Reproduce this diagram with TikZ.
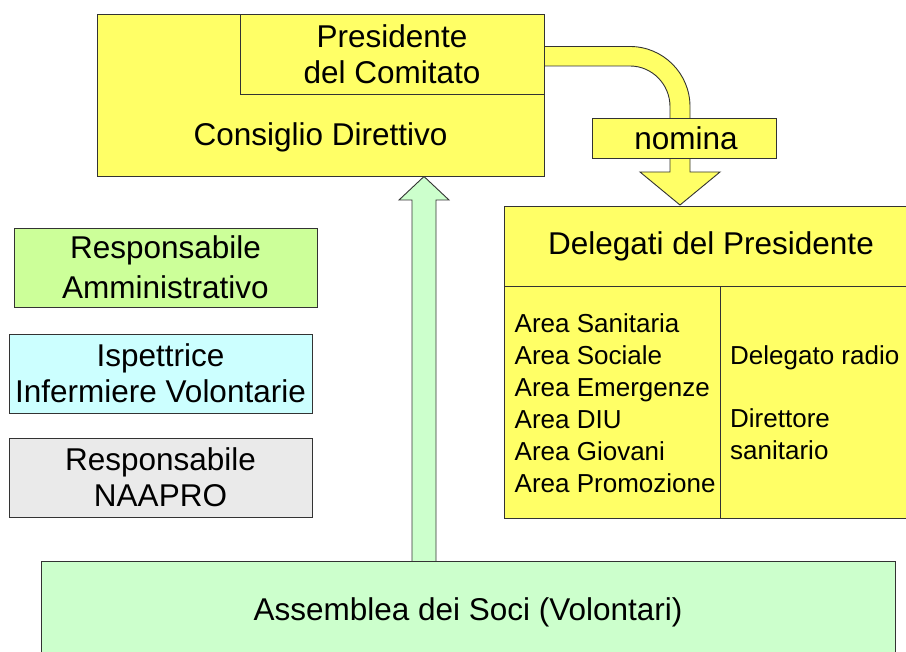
\documentclass[tikz,border=0pt]{standalone}
\usepackage{fontspec}
\setmainfont{Liberation Sans}
\definecolor{cyel}{HTML}{FFFF66}
\definecolor{cgreen}{HTML}{CCFFCC}
\definecolor{clime}{HTML}{CCFF99}
\definecolor{ccyan}{HTML}{CCFFFF}
\definecolor{cgrey}{HTML}{EAEAEA}
\definecolor{cline}{HTML}{333333}
\tikzset{
  boxstyle/.style={draw=cline, line width=0.9pt, rectangle, inner sep=0pt, align=center,
    font=\fontsize{31.5}{36}\selectfont},
  bigtext/.style={inner sep=0pt, align=center, font=\fontsize{31.5}{36}\selectfont},
  smalltext/.style={inner sep=0pt, align=left, font=\fontsize{26}{32}\selectfont},
  arrowshape/.style={draw=cline, line width=0.9pt, line join=miter}
}
\begin{document}
\begin{tikzpicture}[x=1pt,y=-1pt]
\useasboundingbox (0,0) rectangle (906,652);
% green up arrow
\filldraw[arrowshape, fill=cgreen] (412,562) -- (412,200) -- (399,200) -- (424,176.5) -- (449,200) -- (436,200) -- (436,562) -- cycle;
% Consiglio Direttivo
\node[boxstyle, fill=cyel, minimum width=447, minimum height=162.7] (consiglio) at (320.5,95.5) {};
\node[bigtext] (consigliotxt) at (320.5,137) {Consiglio Direttivo};
% curved band
\filldraw[arrowshape, fill=cyel] (544,46.5) -- (630,46.5) .. controls (663.1,46.5) and (690,73.4) .. (690,106.5) -- (690,130) -- (670,130) -- (670,106.5) .. controls (670,84.4) and (652.1,66) .. (630,66) -- (544,66) -- cycle;
% down arrow below nomina
\filldraw[arrowshape, fill=cyel] (670,150) -- (670,172) -- (640,172) -- (680,205) -- (720,172) -- (690,172) -- (690,150) -- cycle;
% Presidente
\node[boxstyle, fill=cyel, minimum width=304, minimum height=80] (presidente) at (392,54) {Presidente\\del Comitato};
% nomina
\node[boxstyle, fill=cyel, minimum width=184, minimum height=40] (nomina) at (684,138) {\hspace*{4pt}nomina};
% Delegati
\node[boxstyle, fill=cyel, minimum width=414, minimum height=80] (delegati) at (711,246) {Delegati del Presidente};
\node[boxstyle, fill=cyel, minimum width=216, minimum height=232, anchor=north west] (colL) at (504,286) {};
\node[boxstyle, fill=cyel, minimum width=198, minimum height=232, anchor=north west] (colR) at (720,286) {};
\node[smalltext, anchor=west] (areas) at (514.5,403) {Area Sanitaria\\Area Sociale\\Area Emergenze\\Area DIU\\Area Giovani\\Area Promozione};
\node[smalltext, anchor=west] (altri) at (730,402.5) {Delegato radio\\[31pt]Direttore\\sanitario};
% left boxes
\node[boxstyle, fill=clime, minimum width=303, minimum height=79] (amm) at (165.5,267.5) {Responsabile\\[4pt]Amministrativo};
\node[boxstyle, fill=ccyan, minimum width=303, minimum height=79] (isp) at (160.5,373.5) {Ispettrice\\Infermiere Volontarie};
\node[boxstyle, fill=cgrey, minimum width=303, minimum height=79] (naapro) at (160.5,477.5) {Responsabile\\NAAPRO};
% Assemblea
\node[boxstyle, fill=cgreen, minimum width=854, minimum height=102, anchor=north west] (assemblea) at (41,561) {};
\node[bigtext] (assembleatxt) at (468,612) {Assemblea dei Soci (Volontari)};
\end{tikzpicture}
\end{document}
